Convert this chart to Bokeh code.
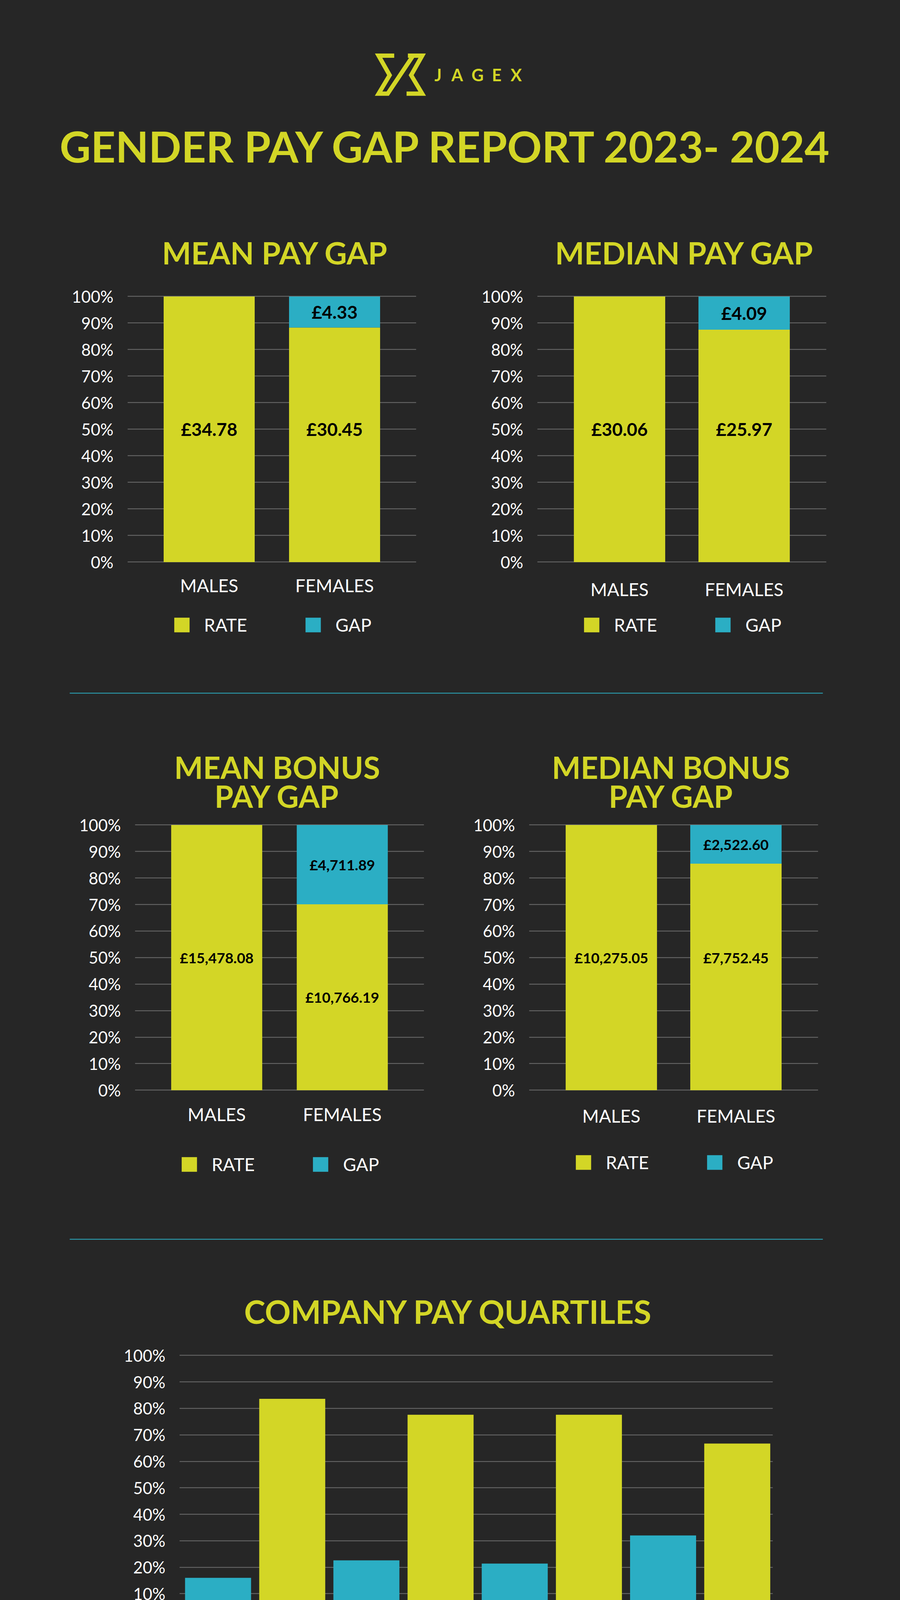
from bokeh.plotting import figure
from bokeh.models import (FactorRange, Range1d, FixedTicker, LabelSet, ColumnDataSource,
                          Legend, LegendItem)
from bokeh.layouts import row
from bokeh.transform import dodge
from bokeh.core.properties import value
from bokeh.embed import file_html
from bokeh.resources import INLINE

# ---------------- data ----------------
genders = ["MALES", "FEMALES"]

mean_pay_rate_pct = [100.0, 88.3]
mean_pay_rate_labels = ["£34.78", "£30.45"]
mean_pay_gap_labels = ["", "£4.33"]

median_pay_rate_pct = [100.0, 87.5]
median_pay_rate_labels = ["£30.06", "£25.97"]
median_pay_gap_labels = ["", "£4.09"]

mean_bonus_rate_pct = [100.0, 70.1]
mean_bonus_rate_labels = ["£15,478.08", "£10,766.19"]
mean_bonus_gap_labels = ["", "£4,711.89"]

median_bonus_rate_pct = [100.0, 85.4]
median_bonus_rate_labels = ["£10,275.05", "£7,752.45"]
median_bonus_gap_labels = ["", "£2,522.60"]

quartiles = ["UPPER QUARTILE", "UPPER MIDDLE QUARTILE", "LOWER MIDDLE QUARTILE", "LOWER QUARTILE"]
quartile_ranges = ["£39.25 - £155.15", "£29.02 - £39.20", "£20.62 - £28.98", "£11.84 - £20.60"]
quartile_males_pct = [83.6, 77.6, 77.6, 66.7]
quartile_females_pct = [16.0, 22.6, 21.4, 32.0]

bonus_recipients_pct = [93.2, 92.5]

y_ticks = list(range(0, 101, 10))

# ---------------- style ----------------
BG = "#262626"
YELLOW = "#D3D626"
TEAL = "#2BAEC4"
GRID = "#6E6E6E"
WHITE = "#FFFFFF"
FONT = "Lato"
PAGE_W = 2288
Y_TOP = 100.5          # a little head-room so the 100% grid line is drawn


def base_fig(width, height, x_range, ppu, left, right, top):
    # frame runs from just above the 100% line down to the bottom of the figure;
    # values below 0 hold the category labels and the legend
    top = top - round((Y_TOP - 100) * ppu)
    y_low = Y_TOP - (height - top) / ppu
    p = figure(width=width, height=height, x_range=x_range, y_range=Range1d(y_low, Y_TOP),
               output_backend="svg", toolbar_location=None, x_axis_location=None,
               min_border_left=left, min_border_right=right,
               min_border_top=top, min_border_bottom=0,
               background_fill_color=None, border_fill_color=None, outline_line_color=None)
    p.yaxis.ticker = FixedTicker(ticks=y_ticks)
    p.yaxis.major_label_overrides = {t: f"{t}%" for t in y_ticks}
    ax = p.yaxis[0]
    ax.axis_line_color = None
    ax.major_tick_line_color = None
    ax.minor_tick_line_color = None
    ax.major_tick_in = 0
    ax.major_tick_out = 0
    ax.major_label_text_color = WHITE
    ax.major_label_text_font = FONT
    ax.major_label_text_font_size = "42px"
    ax.major_label_standoff = 36
    p.xgrid.grid_line_color = None
    p.ygrid.grid_line_color = GRID
    p.ygrid.grid_line_width = 2
    return p


def cat_labels(p, x, y, text, size, source=None):
    kw = dict(text_font=value(FONT), text_font_size=size, text_color=WHITE,
              text_align="center", text_baseline="middle")
    if source is not None:
        p.text(x=x, y=y, text=text, source=source, **kw)
    else:
        p.text(x=x, y=y, text=text, **kw)


def make_legend(items, margin, standoff, spacing, gw, gh, size="46px"):
    return Legend(items=items, orientation="horizontal", location="bottom_center",
                  glyph_width=gw, glyph_height=gh, label_standoff=standoff, spacing=spacing,
                  padding=0, margin=margin, background_fill_alpha=0, border_line_color=None,
                  label_text_color=WHITE, label_text_font=FONT, label_text_font_size=size)


def stacked_chart(rate_pct, rate_labels, gap_labels, height, borders, ppu, pad, bar_w,
                  label_size, xl_y, lg_margin, rate_label_mid=False):
    left, right, top = borders
    p = base_fig(1144, height, FactorRange(factors=genders, range_padding=pad), ppu,
                 left, right, top)
    gap_pct = [round(100 - r, 2) for r in rate_pct]
    rate_y = [r / 2 if rate_label_mid else 50 for r in rate_pct]
    gap_y = [(r + 100) / 2 for r in rate_pct]
    src = ColumnDataSource(dict(cat=genders, rate=rate_pct, gap=gap_pct,
                                rate_lbl=rate_labels, gap_lbl=gap_labels,
                                rate_y=rate_y, gap_y=gap_y))
    rs = p.vbar_stack(["rate", "gap"], x="cat", width=bar_w, color=[YELLOW, TEAL],
                      line_color=None, source=src)
    for ycol, tcol in (("rate_y", "rate_lbl"), ("gap_y", "gap_lbl")):
        p.add_layout(LabelSet(x="cat", y=ycol, text=tcol, source=src,
                              text_align="center", text_baseline="middle",
                              text_font=value(FONT), text_font_style="bold",
                              text_font_size=label_size, text_color="#000000"))
    cat_labels(p, genders, [xl_y] * len(genders), genders, "46px")
    p.add_layout(make_legend([LegendItem(label="RATE", renderers=[rs[0]]),
                              LegendItem(label="GAP", renderers=[rs[1]])],
                             lg_margin, 33, 144, 49, 47))
    return p


def decor(y_top, y_bottom):
    d = figure(width=PAGE_W, height=int(y_bottom - y_top), x_range=Range1d(8, 2296),
               y_range=Range1d(y_bottom, y_top), output_backend="svg", toolbar_location=None,
               min_border=0, x_axis_location=None, y_axis_location=None,
               background_fill_color=None, border_fill_color=None, outline_line_color=None)
    d.grid.visible = False
    return d


def title_text(d, xs, ys, texts, size):
    d.text(x=xs, y=ys, text=texts, text_font=value(FONT), text_font_style="bold",
           text_font_size=size, text_color=YELLOW, text_align="center",
           text_baseline="middle")


def separator(d, y):
    d.segment(x0=186, y0=y, x1=2114, y1=y, line_color=TEAL, line_width=2)


# ---------------- header ----------------
header = decor(8, 720)
header.multi_line(xs=[[1016.7, 976.7, 1005, 976.7, 1000, 1065],
                      [1051.7, 1088.3, 1060, 1088.3, 1048.3]],
                  ys=[[150, 150, 200, 247.3, 247.3, 150],
                      [150, 150, 200, 247.3, 247.3]],
                  line_color=YELLOW, line_width=11, line_join="miter")
header.text(x=[1129, 1178, 1230, 1279, 1329], y=[199] * 5, text=list("JAGEX"),
            text_font=value(FONT), text_font_style="bold", text_font_size="43px",
            text_color=YELLOW, text_align="center", text_baseline="middle")
title_text(header, [1151], [380], ["GENDER PAY GAP REPORT 2023- 2024"], "110px")
title_text(header, [712, 1760], [654, 654], ["MEAN PAY GAP", "MEDIAN PAY GAP"], "79px")

# ---------------- row 1 ----------------
mean_pay = stacked_chart(mean_pay_rate_pct, mean_pay_rate_labels, mean_pay_gap_labels,
                         1000, (326, 79, 46), 6.8, 0.151, 0.726, "46px", -8.8, 85)
median_pay = stacked_chart(median_pay_rate_pct, median_pay_rate_labels, median_pay_gap_labels,
                           1000, (231, 173, 46), 6.8, 0.16, 0.733, "46px", -10.3, 85)

sep1 = decor(1720, 2093)
separator(sep1, 1782)
title_text(sep1, [717, 717, 1725, 1726], [1971, 2045, 1971, 2045],
           ["MEAN BONUS", "PAY GAP", "MEDIAN BONUS", "PAY GAP"], "78px")

# ---------------- row 2 ----------------
mean_bonus = stacked_chart(mean_bonus_rate_pct, mean_bonus_rate_labels, mean_bonus_gap_labels,
                           1057, (345, 59, 26), 6.79, 0.151, 0.725, "37px", -9.0, 134,
                           rate_label_mid=True)
median_bonus = stacked_chart(median_bonus_rate_pct, median_bonus_rate_labels, median_bonus_gap_labels,
                             1057, (210, 194, 26), 6.79, 0.16, 0.733, "37px", -9.7, 139)

sep2 = decor(3150, 3440)
separator(sep2, 3180)
title_text(sep2, [1157], [3364], ["COMPANY PAY QUARTILES"], "82px")

# ---------------- quartiles ----------------
Q_BOX = -19.5
quart = base_fig(PAGE_W, 1070, FactorRange(factors=quartiles, range_padding=0), 6.778,
                 459, 310, 37)
qsrc = ColumnDataSource(dict(q=quartiles, rng=quartile_ranges, males=quartile_males_pct,
                             females=quartile_females_pct))
rf = quart.vbar(x=dodge("q", -0.24, range=quart.x_range), top="females", width=0.445,
                color=TEAL, line_color=None, source=qsrc)
rm = quart.vbar(x=dodge("q", 0.26, range=quart.x_range), top="males", width=0.445,
                color=YELLOW, line_color=None, source=qsrc)
div_x = [(q, -0.5) for q in quartiles] + [(quartiles[-1], 0.5)]
quart.segment(x0=div_x, y0=[0] * len(div_x), x1=div_x, y1=[Q_BOX] * len(div_x),
              line_color=GRID, line_width=2)
cat_labels(quart, "q", -6.2, "q", "28px", source=qsrc)
cat_labels(quart, "q", -12.7, "rng", "39px", source=qsrc)
quart.add_layout(make_legend([LegendItem(label="% MALES", renderers=[rm]),
                              LegendItem(label="% FEMALES", renderers=[rf])],
                             138, 33, 116, 48, 49))

sep3 = decor(4510, 4800)
separator(sep3, 4533)
title_text(sep3, [1162], [4732], ["BONUS RECIPIENTS BY GENDER"], "78px")

# ---------------- bonus recipients ----------------
bonus = base_fig(PAGE_W, 1041, FactorRange(factors=genders, range_padding=0.0905), 6.79,
                 681, 510, 45)
bsrc = ColumnDataSource(dict(cat=genders, pct=bonus_recipients_pct,
                             lbl=[f"{v}%" for v in bonus_recipients_pct],
                             col=[YELLOW, TEAL], ly=[46.8, 42.4]))
bonus.vbar(x=dodge("cat", -0.04, range=bonus.x_range), top="pct", width=0.736,
           fill_color="col", line_color=None, source=bsrc)
bonus.add_layout(LabelSet(x=dodge("cat", -0.04, range=bonus.x_range), y="ly", text="lbl",
                          source=bsrc, text_align="center", text_baseline="middle",
                          text_font=value(FONT), text_font_style="bold",
                          text_font_size="50px", text_color="#000000"))
cat_labels(bonus, dodge("cat", -0.04, range=bonus.x_range), -10.6, "cat", "46px", source=bsrc)

# separate roots: no cross-figure border alignment
roots = [header, row(mean_pay, median_pay), sep1, row(mean_bonus, median_bonus),
         sep2, quart, sep3, bonus]

html = file_html(roots, INLINE, title="Gender Pay Gap Report 2023-2024")
page_style = "<style>html, body { background-color: #262626; }</style>"
if "</head>" in html:
    html = html.replace("</head>", page_style + "</head>", 1)
else:
    html = page_style + html
open("out.html", "w").write(html)
